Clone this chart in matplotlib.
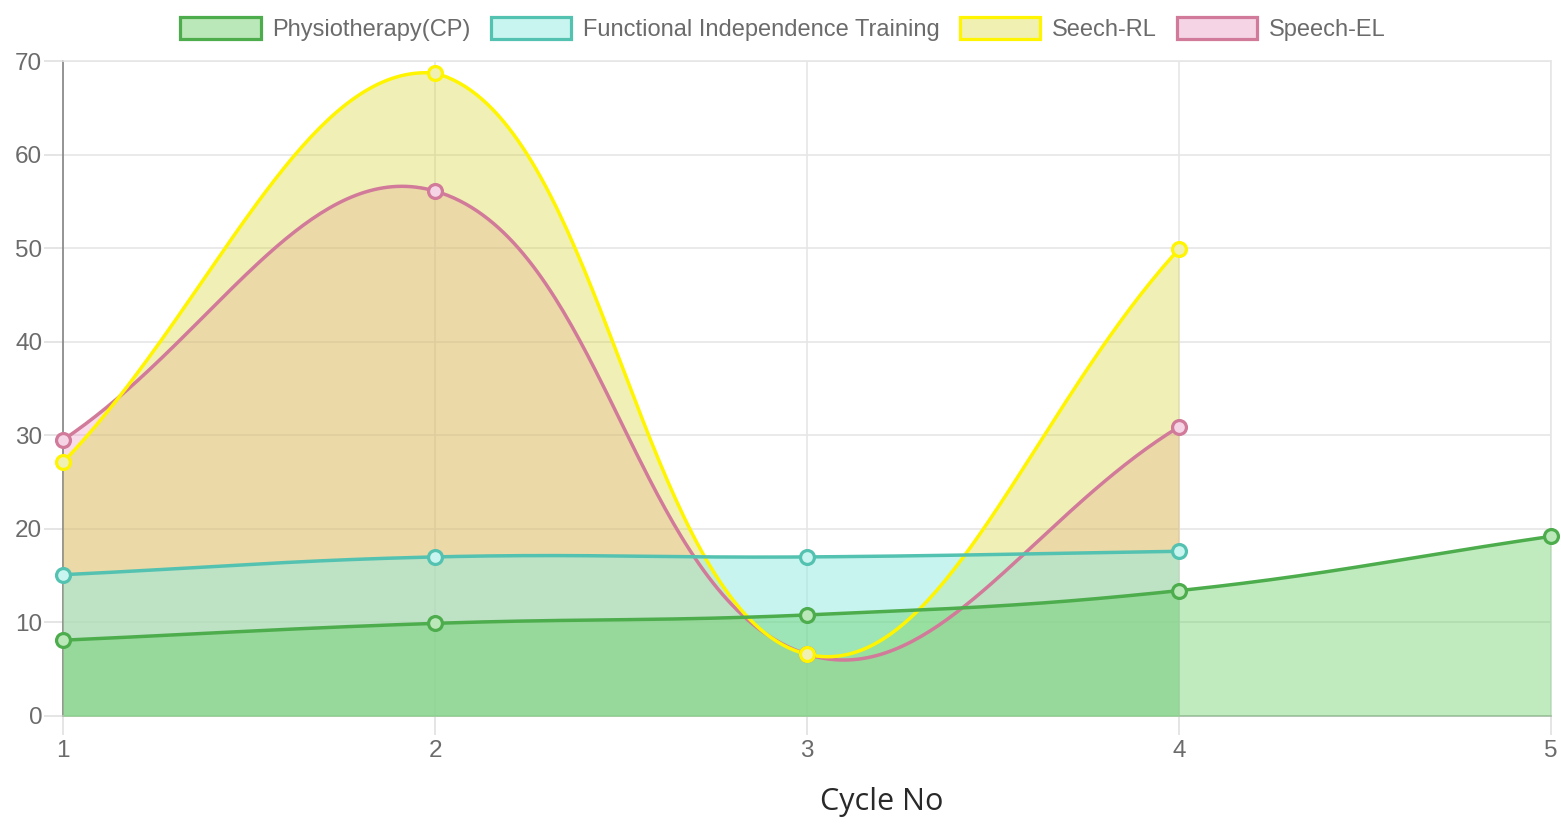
import matplotlib
matplotlib.use("Agg")
import matplotlib.pyplot as plt
from matplotlib.patches import Patch
import numpy as np

plt.rcParams['font.family'] = ['Liberation Sans', 'DejaVu Sans']

# data
cycles = [1, 2, 3, 4, 5]
physio = [8.1, 9.9, 10.8, 13.4, 19.2]
fit = [15.1, 17.0, 17.0, 17.6]
seech_rl = [27.1, 68.7, 6.6, 49.9]
speech_el = [29.5, 56.1, 6.6, 30.9]

labels = ['Physiotherapy(CP)', 'Functional Independence Training', 'Seech-RL', 'Speech-EL']
line_cols = [(0.30, 0.68, 0.30), (0.33, 0.76, 0.69), (1.0, 0.96, 0.0), (0.82, 0.48, 0.60)]
fill_cols = [(0.35, 0.80, 0.35, 0.38), (0.57, 0.92, 0.88, 0.50),
             (0.83, 0.83, 0.16, 0.34), (0.92, 0.55, 0.74, 0.30)]
swatch_cols = [(0.73, 0.91, 0.72), (0.79, 0.96, 0.94), (0.94, 0.94, 0.70), (0.96, 0.83, 0.90)]

YMAX = 70
SX, SY = 372.0, 655.0 / YMAX   # pixels per data unit, used for spline distances


def spline(xs, ys, t=0.4, n=80):
    # cubic bezier like chart.js (tension 0.4)
    px = np.array(xs, float) * SX
    py = np.array(ys, float) * SY
    k = len(px)
    cp_prev = np.zeros((k, 2))
    cp_next = np.zeros((k, 2))
    for i in range(k):
        p0 = np.array([px[max(i - 1, 0)], py[max(i - 1, 0)]])
        p1 = np.array([px[i], py[i]])
        p2 = np.array([px[min(i + 1, k - 1)], py[min(i + 1, k - 1)]])
        d01 = np.hypot(*(p1 - p0))
        d12 = np.hypot(*(p2 - p1))
        tot = d01 + d12
        s01 = d01 / tot if tot else 0
        s12 = d12 / tot if tot else 0
        cp_prev[i] = p1 - t * s01 * (p2 - p0)
        cp_next[i] = p1 + t * s12 * (p2 - p0)
    # cap to chart area
    for c in (cp_prev, cp_next):
        c[:, 0] = np.clip(c[:, 0], 1 * SX, 5 * SX)
        c[:, 1] = np.clip(c[:, 1], 0, YMAX * SY)
    u = np.linspace(0, 1, n)[:, None]
    segs = []
    for i in range(k - 1):
        a = np.array([px[i], py[i]])
        d = np.array([px[i + 1], py[i + 1]])
        b, c = cp_next[i], cp_prev[i + 1]
        pts = (1 - u) ** 3 * a + 3 * (1 - u) ** 2 * u * b + 3 * (1 - u) * u ** 2 * c + u ** 3 * d
        segs.append(pts if i == 0 else pts[1:])
    pts = np.vstack(segs)
    return pts[:, 0] / SX, pts[:, 1] / SY


fig = plt.figure(figsize=(15.61, 8.27), dpi=100)
ax = fig.add_axes([63 / 1561, 111 / 827, 1488 / 1561, 655 / 827])

series = [physio, fit, seech_rl, speech_el]
# chart.js draws the last dataset first
for idx in range(3, -1, -1):
    vals = series[idx]
    xs = cycles[:len(vals)]
    sx_, sy_ = spline(xs, vals)
    ax.fill_between(sx_, 0, sy_, color=fill_cols[idx], lw=0, zorder=2 + (3 - idx))

for idx in range(3, -1, -1):
    vals = series[idx]
    xs = cycles[:len(vals)]
    sx_, sy_ = spline(xs, vals)
    ax.plot(sx_, sy_, color=line_cols[idx], lw=2.5, zorder=10 + (3 - idx), solid_capstyle='round')
    ax.plot(xs, vals, 'o', ms=10, mfc=swatch_cols[idx], mec=line_cols[idx], mew=2.3,
            zorder=20 + (3 - idx), clip_on=False)

ax.set_xlim(1, 5)
ax.set_ylim(0, YMAX)
ax.set_xticks(cycles)
ax.set_yticks(range(0, 71, 10))
ax.grid(True, color=(0.9, 0.9, 0.9), lw=1.2, zorder=0)
ax.set_axisbelow(True)
for s in ['top', 'right']:
    ax.spines[s].set_color((0.9, 0.9, 0.9))
    ax.spines[s].set_linewidth(1.2)
ax.spines['left'].set_color((0.55, 0.55, 0.55))
ax.spines['bottom'].set_color((0.75, 0.75, 0.75))
ax.spines['left'].set_linewidth(1.3)
ax.spines['bottom'].set_linewidth(1.3)
ax.tick_params(length=14, width=1.2, color=(0.88, 0.88, 0.88), labelsize=17.5,
               labelcolor=(0.42, 0.42, 0.42), pad=1)
ax.tick_params(axis='x', pad=3)

ax.text(882 / 1561, 1 - 802 / 827, 'Cycle No', transform=fig.transFigure, ha='center', va='center',
        fontsize=22, color=(0.16, 0.16, 0.16), family=['Open Sans', 'DejaVu Sans'])

handles = [Patch(facecolor=swatch_cols[i], edgecolor=line_cols[i], lw=2.3) for i in range(4)]
fig.legend(handles, labels, loc='center', bbox_to_anchor=(783 / 1561, 1 - 29 / 827), ncol=4,
           frameon=False, fontsize=17, handlelength=3.4, handleheight=1.05, handletextpad=0.5,
           columnspacing=0.85, labelcolor=(0.42, 0.42, 0.42), borderpad=0)

fig.savefig('out.png', dpi=100)
